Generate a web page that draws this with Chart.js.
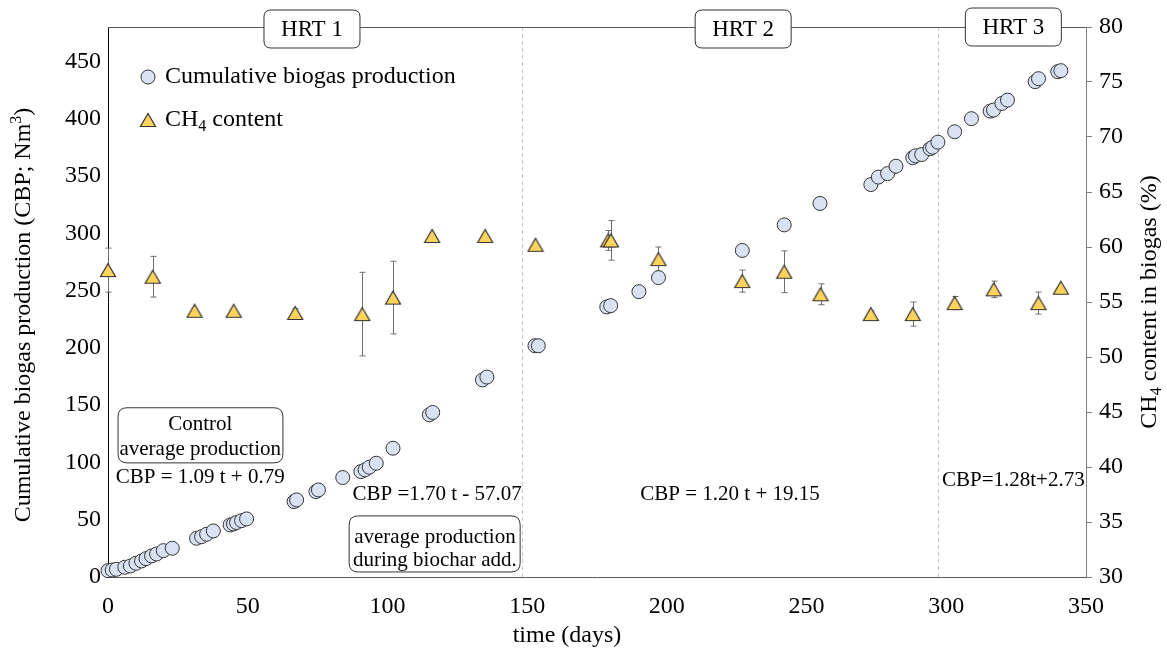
<!DOCTYPE html>
<html><head><meta charset="utf-8">
<script src="https://cdn.jsdelivr.net/npm/chart.js@4.4.1/dist/chart.umd.min.js"></script>
<style>html,body{margin:0;padding:0;background:#fff;}#wrap{width:1167px;height:654px;}</style>
</head><body><div id="wrap"><canvas id="c" width="1167" height="654"></canvas></div>
<script>
// ---- data ----
const cbpDays = [0,1.5,3,6,8,10,12,13.6,15.6,17.4,19.8,23,31.7,33.5,35.3,37.7,43.7,44.9,46,47.8,49.6,66.6,67.5,74.4,75.3,84,90.5,92,93.5,96,102,115,116.2,134,135.6,152.8,154,178.5,179.9,190,197,227,242,254.8,273,275.7,279,282,288,289,291.2,294.2,295.1,297,303,309,315.7,316.9,319.9,321.9,331.8,333,339.9,341];
const cbpValues = [5.5,6.1,6.7,8.5,9.6,12,14,16,18.4,20.1,23,25.1,33.8,35.2,37.3,40.2,45.4,46.3,47.5,49.2,50.7,65.8,67.3,74.5,76,86.8,92,93.5,95.8,99.3,112.4,141.6,143.6,172,174.5,201.8,201.8,235.7,236.8,249,261.3,285,307.3,326,342.5,349,352.1,358.5,365.9,367.6,368.7,373.7,375.1,379.5,388.6,400,406.6,407.5,413.3,416.2,432.3,434.9,441,441.9];
const ch4Days = [0,16,31,45,67,91,102,116,135,153,179,180,197,227,242,255,273,288,303,317,333,341];
const ch4Values = [57.9,57.3,54.2,54.2,54.0,53.9,55.4,61.0,61.0,60.2,60.6,60.6,58.9,56.9,57.75,55.7,53.9,53.9,54.9,56.15,54.9,56.3];
const ch4Errors = [2.0,1.85,0,0,0.4,3.8,3.3,0,0,0,0.9,1.8,1.1,1.0,1.9,0.95,0.3,1.1,0.6,0.75,1.0,0];
const xTickValues = [0,50,100,150,200,250,300,350];
const leftTickValues = [0,50,100,150,200,250,300,350,400,450];
const rightTickValues = [30,35,40,45,50,55,60,65,70,75,80];
const hrtNames = ['HRT 1','HRT 2','HRT 3'];
const hrtCenters = [73,227.3,324];
const hrtBoundaries = [148,297];
const seriesNames = ['Cumulative biogas production','CH4 content'];

// ---- styles ----
const FONT = '"Liberation Serif","Times New Roman",serif';
const CIRCLE_FILL = '#d9e2f3', CIRCLE_EDGE = '#333333';
const TRI_FILL = '#ffd35c', TRI_EDGE = '#333333';

function makeTriangle(){
  const c = document.createElement('canvas'); c.width = 18; c.height = 16;
  const g = c.getContext('2d');
  g.beginPath(); g.moveTo(9,1.5); g.lineTo(16.5,14.5); g.lineTo(1.5,14.5); g.closePath();
  g.fillStyle = TRI_FILL; g.fill(); g.lineWidth = 1.2; g.strokeStyle = TRI_EDGE; g.stroke();
  return c;
}
const triImg = makeTriangle();

// annotation layout (data coordinates on x / left y)
const notes = [
  {box:[3.6,62.6,99.6,147.7], lines:[['Control',132.8],['average production',111]], cx:33},
  {text:'CBP = 1.09 t + 0.79', x:33, y:86.5},
  {text:'CBP =1.70 t - 57.07', x:117.8, y:71.7},
  {box:[86.3,147.5,4.4,53.3], lines:[['average production',34.1],['during biochar add.',14]], cx:117},
  {text:'CBP = 1.20 t + 19.15', x:222.6, y:71.7},
  {text:'CBP=1.28t+2.73', x:324, y:83.9}
];

function rich(ctx, parts, x, y, size, align){
  const small = Math.round(size*0.65);
  let w = 0;
  parts.forEach(p=>{ ctx.font = (p[1]? small: size)+'px '+FONT; w += ctx.measureText(p[0]).width; });
  let cx = align==='center'? x - w/2 : x;
  ctx.textAlign = 'left'; ctx.textBaseline = 'middle';
  parts.forEach(p=>{
    ctx.font = (p[1]? small: size)+'px '+FONT;
    const dy = p[1]===1 ? size*0.28 : (p[1]===2 ? -size*0.3 : 0);
    ctx.fillText(p[0], cx, y+dy);
    cx += ctx.measureText(p[0]).width;
  });
}

function roundRect(ctx,x,y,w,h,r){
  ctx.beginPath(); ctx.moveTo(x+r,y); ctx.lineTo(x+w-r,y); ctx.quadraticCurveTo(x+w,y,x+w,y+r);
  ctx.lineTo(x+w,y+h-r); ctx.quadraticCurveTo(x+w,y+h,x+w-r,y+h); ctx.lineTo(x+r,y+h);
  ctx.quadraticCurveTo(x,y+h,x,y+h-r); ctx.lineTo(x,y+r); ctx.quadraticCurveTo(x,y,x+r,y); ctx.closePath();
}

const decor = {
  id:'decor',
  beforeDatasetsDraw(chart){
    const {ctx, chartArea:a, scales} = chart;
    const xs = scales.x, y2 = scales.y2;
    ctx.save();
    ctx.strokeStyle = '#c8c8c8'; ctx.lineWidth = 1; ctx.setLineDash([4,3]);
    hrtBoundaries.forEach(d=>{ const px = Math.round(xs.getPixelForValue(d))+0.5;
      ctx.beginPath(); ctx.moveTo(px,a.top); ctx.lineTo(px,a.bottom); ctx.stroke(); });
    ctx.setLineDash([]);
    ctx.strokeStyle = '#6e6e6e'; ctx.lineWidth = 1;
    ch4Days.forEach((d,i)=>{ const e = ch4Errors[i]; if(!e) return;
      const px = Math.round(xs.getPixelForValue(d))+0.5;
      const t = y2.getPixelForValue(ch4Values[i]+e), b = y2.getPixelForValue(ch4Values[i]-e);
      ctx.beginPath(); ctx.moveTo(px,t); ctx.lineTo(px,b);
      ctx.moveTo(px-3,t); ctx.lineTo(px+3,t); ctx.moveTo(px-3,b); ctx.lineTo(px+3,b); ctx.stroke(); });
    const ys = scales.y;
    ctx.fillStyle = '#000';
    notes.forEach(n=>{
      if(n.box){
        const x1 = xs.getPixelForValue(n.box[0]), x2 = xs.getPixelForValue(n.box[1]);
        const yt = ys.getPixelForValue(n.box[3]), yb = ys.getPixelForValue(n.box[2]);
        roundRect(ctx,x1,yt,x2-x1,yb-yt,9); ctx.fillStyle='#fff'; ctx.fill();
        ctx.strokeStyle='#333'; ctx.lineWidth=1; ctx.stroke(); ctx.fillStyle='#000';
        n.lines.forEach(l=> rich(ctx,[[l[0],0]], xs.getPixelForValue(n.cx), ys.getPixelForValue(l[1]), 21, 'center'));
      } else {
        rich(ctx,[[n.text,0]], xs.getPixelForValue(n.x), ys.getPixelForValue(n.y), 21, 'center');
      }
    });
    ctx.restore();
  },
  afterDraw(chart){
    const {ctx, chartArea:a, scales} = chart;
    const xs = scales.x;
    ctx.save();
    ctx.strokeStyle = '#595959'; ctx.lineWidth = 1;
    ctx.beginPath(); ctx.moveTo(a.left, a.top+0.5); ctx.lineTo(a.right, a.top+0.5); ctx.stroke();
    hrtNames.forEach((n,i)=>{
      const cx = xs.getPixelForValue(hrtCenters[i]);
      const cy = a.top + (i===2 ? 0 : 2);
      roundRect(ctx, cx-48, cy-19, 96, 38, 7);
      ctx.fillStyle='#fff'; ctx.fill(); ctx.strokeStyle='#333'; ctx.lineWidth=1; ctx.stroke();
      ctx.fillStyle='#000'; rich(ctx,[[n,0]], cx, cy+1, 23, 'center');
    });
    const lx = a.left + 40;
    ctx.beginPath(); ctx.arc(lx, a.top+50, 7, 0, Math.PI*2); ctx.fillStyle=CIRCLE_FILL; ctx.fill();
    ctx.strokeStyle=CIRCLE_EDGE; ctx.lineWidth=1; ctx.stroke();
    ctx.fillStyle='#000'; rich(ctx,[[seriesNames[0],0]], lx+17, a.top+50, 24, 'left');
    ctx.drawImage(triImg, lx-9, a.top+93-8);
    rich(ctx,[['CH',0],['4',1],[' content',0]], lx+17, a.top+93, 24, 'left');
    rich(ctx,[['time (days)',0]], 567, 636, 24, 'center');
    ctx.save(); ctx.translate(24, 315); ctx.rotate(-Math.PI/2);
    rich(ctx,[['Cumulative biogas production (CBP; Nm',0],['3',2],[')',0]], 0, 0, 24, 'center');
    ctx.restore();
    ctx.save(); ctx.translate(1150, 302); ctx.rotate(-Math.PI/2);
    rich(ctx,[['CH',0],['4',1],[' content in biogas (%)',0]], 0, 0, 24, 'center');
    ctx.restore();
    ctx.restore();
  }
};

const tickFont = {family: FONT, size: 24};
new Chart(document.getElementById('c'), {
  type: 'scatter',
  data: {
    datasets: [
      {label: seriesNames[0], yAxisID:'y', data: cbpDays.map((d,i)=>({x:d, y:cbpValues[i]})), clip:false,
       pointStyle:'circle', pointRadius:7, pointHoverRadius:7, backgroundColor:CIRCLE_FILL, borderColor:CIRCLE_EDGE, borderWidth:1, order:2},
      {label: seriesNames[1], yAxisID:'y2', data: ch4Days.map((d,i)=>({x:d, y:ch4Values[i]})), clip:false,
       pointStyle:triImg, pointRadius:8, order:1}
    ]
  },
  options: {
    responsive:false, animation:false,
    layout:{padding:{top:27, left:0, right:0, bottom:0}},
    plugins:{legend:{display:false}, tooltip:{enabled:false}},
    scales:{
      x:{type:'linear', min:0, max:350, position:'bottom',
         afterBuildTicks(s){ s.ticks = xTickValues.map(v=>({value:v})); },
         afterFit(s){ s.height = 77; },
         grid:{display:false, drawTicks:false}, border:{display:true, color:'#595959', width:1},
         ticks:{font:tickFont, color:'#000', padding:15, maxRotation:0}},
      y:{type:'linear', min:0, max:480, position:'left',
         afterBuildTicks(s){ s.ticks = leftTickValues.map(v=>({value:v})); },
         afterFit(s){ s.width = 108; },
         grid:{display:false, drawTicks:false}, border:{display:true, color:'#000', width:1},
         ticks:{font:tickFont, color:'#000', padding:7}},
      y2:{type:'linear', min:30, max:80, position:'right',
         afterBuildTicks(s){ s.ticks = rightTickValues.map(v=>({value:v})); },
         afterFit(s){ s.width = 81; },
         grid:{display:true, drawOnChartArea:false, drawTicks:true, tickLength:6, color:'#7f7f7f'},
         border:{display:true, color:'#7f7f7f', width:1},
         ticks:{font:tickFont, color:'#000', padding:7}}
    }
  },
  plugins:[decor]
});
</script></body></html>
